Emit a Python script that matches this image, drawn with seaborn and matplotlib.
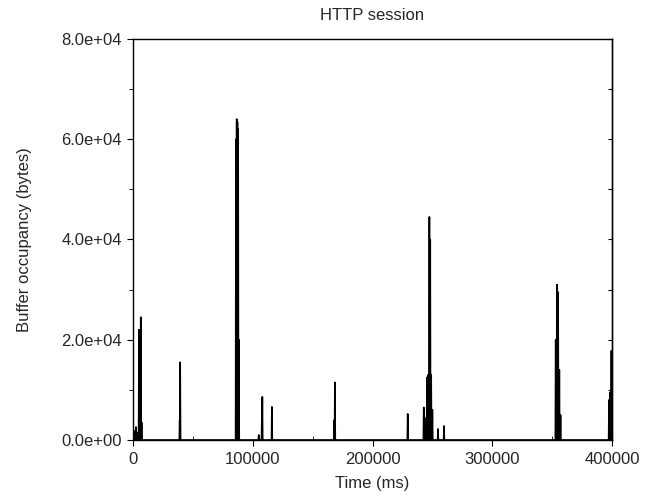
import numpy as np
import pandas as pd
import matplotlib
matplotlib.use("Agg")
import matplotlib.pyplot as plt
from matplotlib.ticker import FuncFormatter, MultipleLocator
import seaborn as sns

# spike times (ms) and peak buffer occupancy (bytes)
spike_times = [1500, 2500, 4000, 5000, 6500, 7200,
               39000, 39400,
               86000, 86600, 87200, 87800, 88400,
               105000, 107600, 108000, 116000,
               168200, 168600,
               229400, 242800, 243500,
               245500, 246500, 247500, 248200, 249000, 250000,
               254700, 259700,
               353000, 354000, 355000, 356000, 357000,
               397500, 398500, 399500]
spike_heights = [1800, 2600, 1500, 22000, 24500, 3500,
                 4000, 15500,
                 60000, 64000, 63500, 62000, 20000,
                 1000, 4000, 8600, 6600,
                 4000, 11500,
                 5200, 6500, 4500,
                 12500, 13000, 44500, 40000, 13000, 6000,
                 2200, 2800,
                 20000, 31000, 29500, 14000, 5000,
                 8000, 9500, 17800]


def build_trace(times, heights, half_width=300):
    """zero baseline with a narrow peak at each spike"""
    t_out, v_out = [0], [0]
    for t, h in zip(times, heights):
        t_out += [t - half_width, t, t + half_width]
        v_out += [0, h, 0]
    t_out.append(400000)
    v_out.append(0)
    return pd.DataFrame({"time": t_out, "occupancy": v_out})


def main():
    sns.set_style("ticks")
    plt.rcParams["font.family"] = ["Liberation Sans", "DejaVu Sans"]
    plt.rcParams["font.size"] = 12

    df = build_trace(spike_times, spike_heights)

    fig = plt.figure(figsize=(6.56, 4.96), dpi=100)
    ax = fig.add_axes([133 / 656, 1 - 440 / 496, 479 / 656, 401 / 496])
    sns.lineplot(data=df, x="time", y="occupancy", color="black",
                 linewidth=1.2, sort=False, estimator=None, ax=ax)

    ax.set_xlim(0, 400000)
    ax.set_ylim(0, 80000)
    ax.xaxis.set_major_locator(MultipleLocator(100000))
    ax.xaxis.set_minor_locator(MultipleLocator(50000))
    ax.yaxis.set_major_locator(MultipleLocator(20000))
    ax.yaxis.set_minor_locator(MultipleLocator(10000))
    ax.xaxis.set_major_formatter(FuncFormatter(lambda v, p: f"{int(v)}"))
    ax.yaxis.set_major_formatter(FuncFormatter(lambda v, p: f"{v:.1e}"))

    for s in ax.spines.values():
        s.set_visible(True)
        s.set_color("black")
        s.set_linewidth(1.0)

    ax.tick_params(axis="y", which="both", direction="out", right=False,
                   labelsize=12, color="black", pad=4)
    ax.tick_params(axis="y", which="major", length=4)
    ax.tick_params(axis="y", which="minor", length=3)
    ax.tick_params(axis="x", which="major", direction="out", length=4,
                   labelsize=12, top=False, color="black", pad=5)
    ax.tick_params(axis="x", which="minor", direction="in", length=3,
                   top=False, color="black")

    # inward ticks on the right side, no labels
    sec = ax.secondary_yaxis("right")
    sec.yaxis.set_major_locator(MultipleLocator(10000))
    sec.tick_params(direction="in", length=3, labelright=False, color="black")
    sec.spines["right"].set_linewidth(1.0)

    ax.set_xlabel("Time (ms)", fontsize=12, labelpad=6)
    ax.set_ylabel("Buffer occupancy (bytes)", fontsize=12, labelpad=21)
    ax.set_title("HTTP session", fontsize=12, pad=14)

    fig.savefig("out.png", dpi=100)
    plt.close(fig)


if __name__ == "__main__":
    main()
